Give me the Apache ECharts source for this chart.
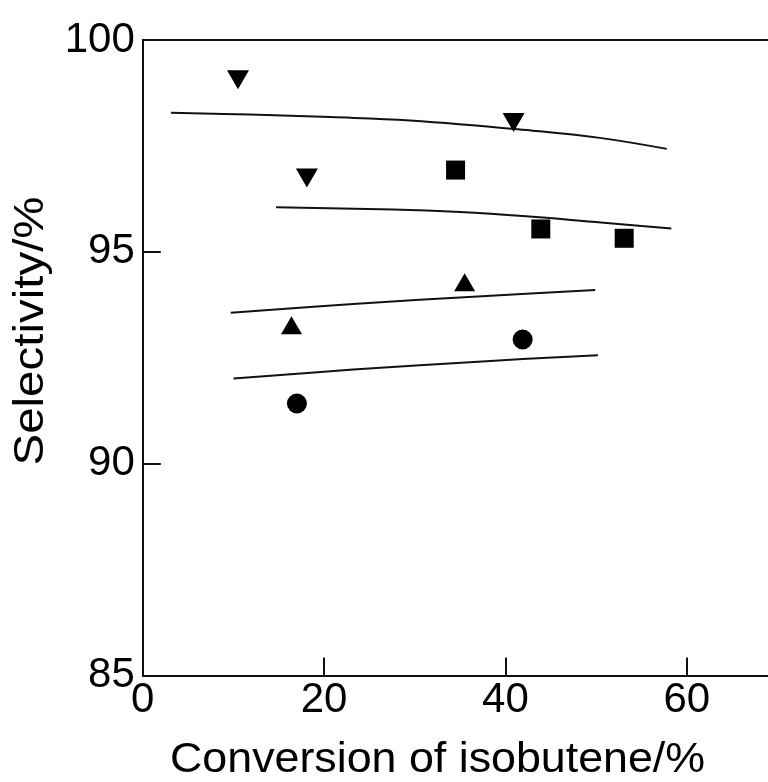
<!DOCTYPE html>
<html>
<head>
<meta charset="utf-8">
<script src="https://cdn.jsdelivr.net/npm/echarts@6/dist/echarts.min.js"></script>
<style>
html,body{margin:0;padding:0;background:#fff;}
#chart{width:768px;height:782px;}
</style>
</head>
<body>
<div id="chart"></div>
<script>
// Data (x: conversion %, y: selectivity %)
var downTriangles = [[10.5, 99.06], [40.9, 98.05], [18.1, 96.74]];
var squares = [[34.5, 96.93], [43.9, 95.54], [53.1, 95.32]];
var upTriangles = [[16.4, 93.27], [35.5, 94.28]];
var circles = [[17.0, 91.42], [41.9, 92.93]];

var curve1 = [[3.1, 98.28], [11.8, 98.24], [20.7, 98.18], [29.5, 98.10], [43.0, 97.86], [50.4, 97.69], [57.8, 97.43]];
var curve2 = [[14.7, 96.05], [27.6, 96.00], [35.0, 95.94], [42.3, 95.84], [49.6, 95.71], [58.3, 95.55]];
var curve3 = [[9.7, 93.56], [23.2, 93.77], [37.9, 93.96], [49.9, 94.10]];
var curve4 = [[10.0, 92.01], [23.2, 92.22], [37.9, 92.42], [50.2, 92.56]];

var xTicks = [0, 20, 40, 60];
var yTicks = [85, 90, 95, 100];

var FONT = 'Liberation Sans, Arial, sans-serif';
var INK = '#111';

var chart = echarts.init(document.getElementById('chart'), null, {renderer: 'canvas'});

function curveSeries(d) {
  return {
    type: 'line', data: d, smooth: 0.4, showSymbol: false, silent: true,
    lineStyle: {color: INK, width: 2}, z: 2
  };
}
function scatterSeries(d, sym, size, rot) {
  return {
    type: 'scatter', data: d, symbol: sym, symbolSize: size, symbolRotate: rot || 0,
    itemStyle: {color: '#000', opacity: 1}, z: 3
  };
}

chart.setOption({
  animation: false,
  backgroundColor: '#fff',
  grid: {left: 142.8, top: 40, width: 634.6, height: 635.5, containLabel: false, outerBoundsMode: 'none'},
  xAxis: [{
    type: 'value', min: 0, max: 70, interval: 20,
    axisLine: {show: true, lineStyle: {color: INK, width: 2}},
    axisTick: {show: true, inside: true, length: 18, lineStyle: {color: INK, width: 2}},
    axisLabel: {
      fontFamily: FONT, fontSize: 42, color: '#000', margin: 4, showMaxLabel: false,
      formatter: function (v) { return xTicks.indexOf(v) >= 0 ? String(v) : ''; }
    },
    splitLine: {show: false}
  }, {
    type: 'value', min: 0, max: 70, position: 'top',
    axisLine: {show: true, onZero: false, lineStyle: {color: INK, width: 2}},
    axisTick: {show: false}, axisLabel: {show: false}, splitLine: {show: false}
  }],
  yAxis: [{
    type: 'value', min: 85, max: 100, interval: 5,
    axisLine: {show: true, lineStyle: {color: INK, width: 2}},
    axisTick: {show: true, inside: true, length: 18, lineStyle: {color: INK, width: 2}},
    axisLabel: {
      fontFamily: FONT, fontSize: 42, color: '#000', margin: 8, padding: [0, 0, 8, 0],
      formatter: function (v) { return yTicks.indexOf(v) >= 0 ? String(v) : ''; }
    },
    splitLine: {show: false}
  }],
  graphic: [{
    type: 'text', x: 170, y: 739, scaleX: 1.066,
    style: {text: 'Conversion of isobutene/%', font: '42px ' + FONT, fill: '#000', verticalAlign: 'top'}
  }, {
    type: 'text', x: 31, y: 331, rotation: Math.PI / 2, scaleX: 1.13, scaleY: 1.03,
    style: {text: 'Selectivity/%', font: '42px ' + FONT, fill: '#000', align: 'center', verticalAlign: 'middle'}
  }],
  series: [
    curveSeries(curve1), curveSeries(curve2), curveSeries(curve3), curveSeries(curve4),
    scatterSeries(downTriangles, 'triangle', [22, 19], 180),
    scatterSeries(squares, 'rect', 19),
    scatterSeries(upTriangles, 'triangle', [21, 18]),
    scatterSeries(circles, 'circle', 20)
  ]
});
</script>
</body>
</html>
